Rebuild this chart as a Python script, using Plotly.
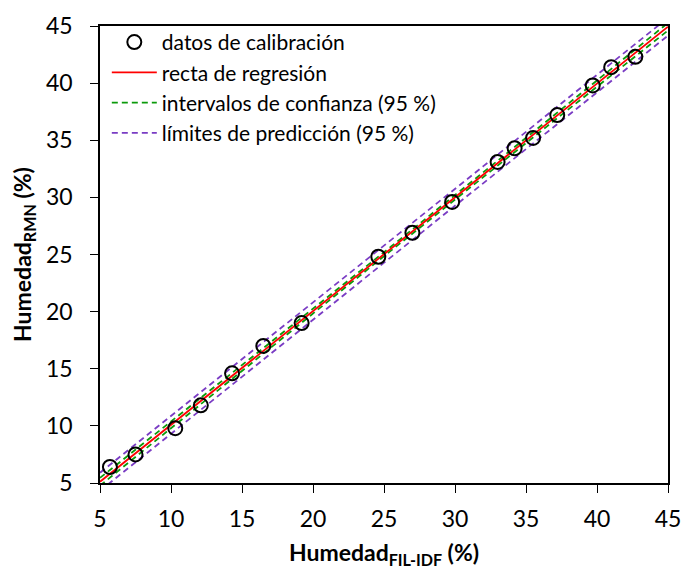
import numpy as np
import plotly.graph_objects as go

# Calibration data: moisture by FIL-IDF reference method vs. NMR
humedad_fil_idf = [5.7, 7.5, 10.3, 12.1, 14.3, 16.5, 19.2, 24.6, 27.0, 29.8,
                   33.0, 34.2, 35.5, 37.2, 39.7, 41.0, 42.7]
humedad_rmn = [6.4, 7.5, 9.8, 11.8, 14.6, 17.0, 19.0, 24.8, 26.9, 29.6,
               33.1, 34.3, 35.2, 37.2, 39.8, 41.4, 42.3]

axis_ticks = [5, 10, 15, 20, 25, 30, 35, 40, 45]
t_95 = 2.131  # Student t, 95 %, n - 2 = 15 degrees of freedom

legend_labels = ["datos de calibración", "recta de regresión",
                 "intervalos de confianza (95 %)", "límites de predicción (95 %)"]

# Least-squares fit and 95 % bands
x = np.array(humedad_fil_idf)
y = np.array(humedad_rmn)
n = len(x)
slope, intercept = np.polyfit(x, y, 1)
resid = y - (slope * x + intercept)
s = np.sqrt(np.sum(resid ** 2) / (n - 2))
sxx = np.sum((x - x.mean()) ** 2)

xg = np.linspace(axis_ticks[0], axis_ticks[-1], 161)
yg = slope * xg + intercept
ci = t_95 * s * np.sqrt(1 / n + (xg - x.mean()) ** 2 / sxx)
pi = t_95 * s * np.sqrt(1 + 1 / n + (xg - x.mean()) ** 2 / sxx)

GREEN = "#0a9a0a"
PURPLE = "#7a3cc4"
FONT = "Lato"

fig = go.Figure()

for sign in (1, -1):
    fig.add_trace(go.Scatter(
        x=xg, y=yg + sign * pi, mode="lines",
        line=dict(color=PURPLE, width=1.8, dash="6px,4px"),
        name=legend_labels[3], legendrank=4, showlegend=(sign == 1),
        hoverinfo="skip"))
for sign in (1, -1):
    fig.add_trace(go.Scatter(
        x=xg, y=yg + sign * ci, mode="lines",
        line=dict(color=GREEN, width=1.8, dash="6px,4px"),
        name=legend_labels[2], legendrank=3, showlegend=(sign == 1),
        hoverinfo="skip"))
fig.add_trace(go.Scatter(
    x=xg, y=yg, mode="lines",
    line=dict(color="#ff0000", width=1.8),
    name=legend_labels[1], legendrank=2))
fig.add_trace(go.Scatter(
    x=humedad_fil_idf, y=humedad_rmn, mode="markers",
    marker=dict(symbol="circle-open", size=14, color="black",
                line=dict(width=2, color="black")),
    name=legend_labels[0], legendrank=1))

axis_common = dict(
    range=[axis_ticks[0], axis_ticks[-1]],
    tickvals=axis_ticks,
    ticks="outside", ticklen=8, tickwidth=1.3, tickcolor="black",
    showline=True, linecolor="black", linewidth=1.5, mirror=True,
    showgrid=False, zeroline=False, automargin=False,
    tickfont=dict(family=FONT, size=23, color="black"),
)

fig.update_layout(
    width=683, height=572,
    margin=dict(l=100, r=15, t=26, b=89),
    paper_bgcolor="white", plot_bgcolor="white",
    font=dict(family=FONT, color="black"),
    xaxis=dict(**axis_common, ticklabelstandoff=7,
               title=dict(text="<b>Humedad<sub>FIL-IDF</sub> (%)</b>",
                          font=dict(family=FONT, size=23), standoff=14)),
    yaxis=dict(**axis_common, ticklabelstandoff=13,
               title=dict(text="<b>Humedad<sub>RMN</sub> (%)</b>",
                          font=dict(family=FONT, size=23), standoff=8)),
    legend=dict(x=0.012, y=1.009, xanchor="left", yanchor="top",
                bgcolor="rgba(0,0,0,0)", borderwidth=0,
                font=dict(family=FONT, size=21, color="black"),
                tracegroupgap=0, itemwidth=45),
    showlegend=True,
)

fig.write_html("out.html")
